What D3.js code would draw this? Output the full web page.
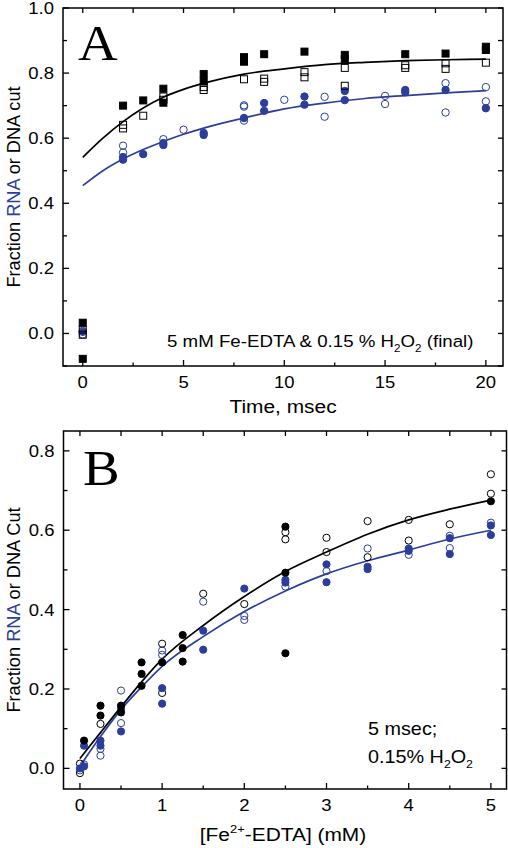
<!DOCTYPE html>
<html><head><meta charset="utf-8">
<script src="https://cdn.jsdelivr.net/npm/d3@7/dist/d3.min.js"></script>
<style>
html,body{margin:0;padding:0;background:#fff;}
svg{display:block;}
text{font-family:"Liberation Sans",Arial,sans-serif;fill:#000;}
</style></head><body>
<script>
// ---------------- DATA ----------------
const BLUE = "#2d3d9c";
// Panel A: time (msec) vs fraction cut
const aFilledSquares = [[0,0.033],[0,-0.078],[2,0.70],[3,0.716],[4,0.752],[4,0.709],[6,0.797],[6,0.774],[8,0.849],[8,0.835],[9,0.858],[11,0.866],[13,0.856],[13,0.843],[16,0.858],[18,0.86],[20,0.881],[20,0.871]];
const aOpenSquares = [[0,0.012],[0,-0.004],[2,0.641],[2,0.630],[3,0.669],[4,0.728],[4,0.718],[6,0.757],[6,0.748],[8,0.781],[9,0.783],[9,0.773],[11,0.803],[11,0.787],[13,0.816],[13,0.761],[16,0.824],[16,0.816],[18,0.830],[18,0.813],[20,0.832]];
const aFilledCircles = [[0,0.005],[2,0.542],[2,0.534],[3,0.551],[4,0.585],[4,0.579],[6,0.616],[6,0.61],[8,0.662],[9,0.708],[9,0.684],[11,0.728],[11,0.703],[13,0.745],[13,0.717],[16,0.748],[16,0.741],[18,0.748],[20,0.692]];
const aOpenCircles = [[0,-0.003],[0,0.008],[2,0.577],[2,0.556],[4,0.597],[5,0.626],[8,0.701],[8,0.697],[8,0.654],[10,0.718],[12,0.727],[12,0.666],[15,0.730],[15,0.705],[18,0.769],[18,0.679],[20,0.757],[20,0.713]];
const aFitBlack = [[0,0.541],[1,0.600],[2,0.651],[3,0.693],[4,0.726],[5,0.750],[6,0.769],[8,0.797],[10,0.813],[12,0.826],[14,0.833],[16,0.838],[18,0.841],[20,0.843]];
const aFitBlue = [[0,0.454],[1,0.500],[2,0.536],[3,0.565],[4,0.590],[5,0.612],[6,0.631],[8,0.662],[10,0.690],[12,0.708],[14,0.722],[16,0.731],[18,0.739],[20,0.746]];
const aXTicks = [0,5,10,15,20];
const aYTicks = [0.0,0.2,0.4,0.6,0.8,1.0];

// Panel B: [Fe2+-EDTA] (mM) vs fraction cut
const bBlackFilled = [[0.05,0.07],[0.25,0.158],[0.25,0.133],[0.5,0.158],[0.5,0.141],[0.75,0.267],[0.75,0.238],[0.75,0.208],[1,0.267],[1.25,0.336],[1.25,0.303],[1.25,0.269],[2.5,0.609],[2.5,0.493],[2.5,0.29],[5,0.673]];
const bBlackOpen = [[0,-0.012],[0,0.012],[0.25,0.112],[1,0.314],[1,0.19],[1.5,0.44],[2,0.414],[2.5,0.595],[2.5,0.577],[3,0.581],[3,0.545],[3.5,0.623],[3.5,0.532],[4,0.626],[4,0.574],[4.5,0.615],[5,0.741],[5,0.692]];
const bBlueFilled = [[0,0.0],[0.05,0.057],[0.05,0.005],[0.25,0.07],[0.25,0.057],[0.5,0.15],[0.5,0.093],[1,0.202],[1,0.163],[1.5,0.347],[1.5,0.299],[2,0.453],[2.5,0.475],[2.5,0.468],[3,0.514],[3,0.469],[3.5,0.508],[3.5,0.502],[4,0.554],[4,0.548],[4.5,0.58],[4.5,0.54],[5,0.612],[5,0.588]];
const bBlueOpen = [[0,-0.005],[0.05,0.01],[0.25,0.049],[0.25,0.032],[0.5,0.196],[0.5,0.114],[1,0.297],[1,0.286],[1.5,0.42],[2,0.384],[2,0.374],[2.5,0.458],[3,0.497],[3.5,0.554],[4,0.538],[4.5,0.586],[4.5,0.555],[5,0.619]];
const bFitBlack = [[0,0.025],[0.25,0.09],[0.5,0.155],[0.75,0.218],[1,0.275],[1.5,0.36],[2,0.433],[2.5,0.496],[3,0.545],[3.5,0.59],[4,0.626],[4.5,0.653],[5,0.676]];
const bFitBlue = [[0,0.005],[0.25,0.08],[0.5,0.148],[0.75,0.205],[1,0.257],[1.5,0.332],[2,0.395],[2.5,0.447],[3,0.49],[3.5,0.523],[4,0.55],[4.5,0.578],[5,0.60]];
const bXTicks = [0,1,2,3,4,5];
const bYTicks = [0.0,0.2,0.4,0.6,0.8];

// ---------------- DRAW ----------------
const W = 508, H = 848, SX = 1.1;
const svg = d3.select("body").append("svg").attr("width", W).attr("height", H);

function htext(g, x, y, anchor, size, parts, family) {
  const t = g.append("text")
    .attr("transform", `translate(${x},${y}) scale(${SX},1)`)
    .attr("text-anchor", anchor).attr("font-size", size);
  if (family) t.style("font-family", family);
  parts.forEach(p => {
    const ts = t.append("tspan").text(p.t);
    if (p.sub) ts.attr("font-size", size * 0.62).attr("dy", size * 0.28);
    if (p.sup) ts.attr("font-size", size * 0.62).attr("dy", -size * 0.42);
    if (p.back) ts.attr("dy", p.back);
    if (p.fill) ts.style("fill", p.fill);
  });
  return t;
}

function panel(cfg) {
  const g = svg.append("g");
  const x = d3.scaleLinear().domain(cfg.xDom).range([cfg.left, cfg.right]);
  const y = d3.scaleLinear().domain(cfg.yDom).range([cfg.bottom, cfg.top]);

  const xMajor = cfg.xTicks, xMinor = cfg.xMinor, yMajor = cfg.yTicks, yMinor = cfg.yMinor;
  const tk = g.append("g").attr("stroke", "#000").attr("stroke-width", 1.3);
  xMinor.forEach(v => {
    const major = xMajor.some(m => Math.abs(m - v) < 1e-9);
    const L = major ? 6 : 3.5;
    tk.append("line").attr("x1", x(v)).attr("x2", x(v)).attr("y1", cfg.bottom).attr("y2", cfg.bottom - L);
    tk.append("line").attr("x1", x(v)).attr("x2", x(v)).attr("y1", cfg.top).attr("y2", cfg.top + 5);
  });
  yMinor.forEach(v => {
    const major = yMajor.some(m => Math.abs(m - v) < 1e-9);
    const L = major ? 6 : 4;
    tk.append("line").attr("x1", cfg.left).attr("x2", cfg.left + L).attr("y1", y(v)).attr("y2", y(v));
    tk.append("line").attr("x1", cfg.right).attr("x2", cfg.right - 5).attr("y1", y(v)).attr("y2", y(v));
  });
  g.append("rect").attr("x", cfg.left).attr("y", cfg.top)
    .attr("width", cfg.right - cfg.left).attr("height", cfg.bottom - cfg.top)
    .attr("fill", "none").attr("stroke", "#000").attr("stroke-width", 1.5);

  xMajor.forEach(v => htext(g, x(v), cfg.bottom + 22, "middle", 16.8, [{t: d3.format("d")(v)}]));
  yMajor.forEach(v => htext(g, cfg.left - 9, y(v) + 6, "end", 16.8, [{t: d3.format(".1f")(v)}]));

  const line = d3.line().x(d => x(d[0])).y(d => y(d[1])).curve(d3.curveMonotoneX);
  g.append("path").datum(cfg.fitBlack).attr("d", line).attr("fill", "none").attr("stroke", "#000").attr("stroke-width", 1.7);
  g.append("path").datum(cfg.fitBlue).attr("d", line).attr("fill", "none").attr("stroke", BLUE).attr("stroke-width", 1.7);

  const r = cfg.r, s = cfg.sq;
  const sq = (data, fill, stroke) => g.append("g").selectAll("rect").data(data).join("rect")
    .attr("x", d => x(d[0]) - s / 2).attr("y", d => y(d[1]) - s / 2)
    .attr("width", s).attr("height", s)
    .attr("fill", fill).attr("stroke", stroke).attr("stroke-width", 1);
  const ci = (data, fill, stroke) => g.append("g").selectAll("circle").data(data).join("circle")
    .attr("cx", d => x(d[0])).attr("cy", d => y(d[1])).attr("r", r)
    .attr("fill", fill).attr("stroke", stroke).attr("stroke-width", 1);
  cfg.marks(sq, ci);

  htext(g, cfg.letterX, cfg.letterY, "start", 50, [{t: cfg.letter}], '"Liberation Serif","Times New Roman",serif');

  const yt = g.append("text")
    .attr("transform", `translate(20,${(cfg.top + cfg.bottom) / 2}) rotate(-90)`)
    .attr("text-anchor", "middle").attr("font-size", 18.2);
  yt.append("tspan").text("Fraction ");
  yt.append("tspan").text("RNA").style("fill", BLUE);
  yt.append("tspan").text(" or DNA " + cfg.cutWord);

  return {g, x, y};
}

const pA = panel({
  left: 63, right: 503, top: 8, bottom: 366,
  xDom: [-0.98, 20.85], yDom: [-0.1, 1.0],
  xTicks: aXTicks, xMinor: d3.range(0, 20.01, 2.5),
  yTicks: aYTicks, yMinor: d3.range(-0.1, 1.001, 0.1).map(v => +v.toFixed(2)),
  fitBlack: aFitBlack, fitBlue: aFitBlue, r: 3.7, sq: 7,
  letter: "A", letterX: 78, letterY: 60, cutWord: "cut",
  marks: (sq, ci) => {
    ci(aFilledCircles, BLUE, BLUE);
    ci(aOpenCircles, "none", BLUE);
    sq(aOpenSquares, "none", "#000");
    sq(aFilledSquares, "#000", "#000");
  }
});
htext(pA.g, 283, 413, "middle", 19, [{t: "Time, msec"}]);
htext(pA.g, 167, 347, "start", 17, [{t: "5 mM Fe-EDTA & 0.15 % H"}, {t: "2", sub: true}, {t: "O", back: -17 * 0.28}, {t: "2", sub: true}, {t: " (final)", back: -17 * 0.28}]);

const pB = panel({
  left: 63.5, right: 506.5, top: 431, bottom: 789,
  xDom: [-0.2, 5.19], yDom: [-0.052, 0.85],
  xTicks: bXTicks, xMinor: d3.range(0, 5.01, 0.5),
  yTicks: bYTicks, yMinor: d3.range(0, 0.801, 0.1).map(v => +v.toFixed(2)),
  fitBlack: bFitBlack, fitBlue: bFitBlue, r: 3.6, sq: 6,
  letter: "B", letterX: 83, letterY: 485, cutWord: "Cut",
  marks: (sq, ci) => {
    ci(bBlueOpen, "none", BLUE);
    ci(bBlackOpen, "none", "#000");
    ci(bBlueFilled, BLUE, BLUE);
    ci(bBlackFilled, "#000", "#000");
  }
});
htext(pB.g, 283, 841, "middle", 19, [{t: "[Fe"}, {t: "2+", sup: true}, {t: "-EDTA] (mM)", back: 19 * 0.42}]);
htext(pB.g, 368, 735, "start", 18, [{t: "5 msec;"}]);
htext(pB.g, 368, 763, "start", 18, [{t: "0.15% H"}, {t: "2", sub: true}, {t: "O", back: -18 * 0.28}, {t: "2", sub: true}]);
</script>
</body></html>
